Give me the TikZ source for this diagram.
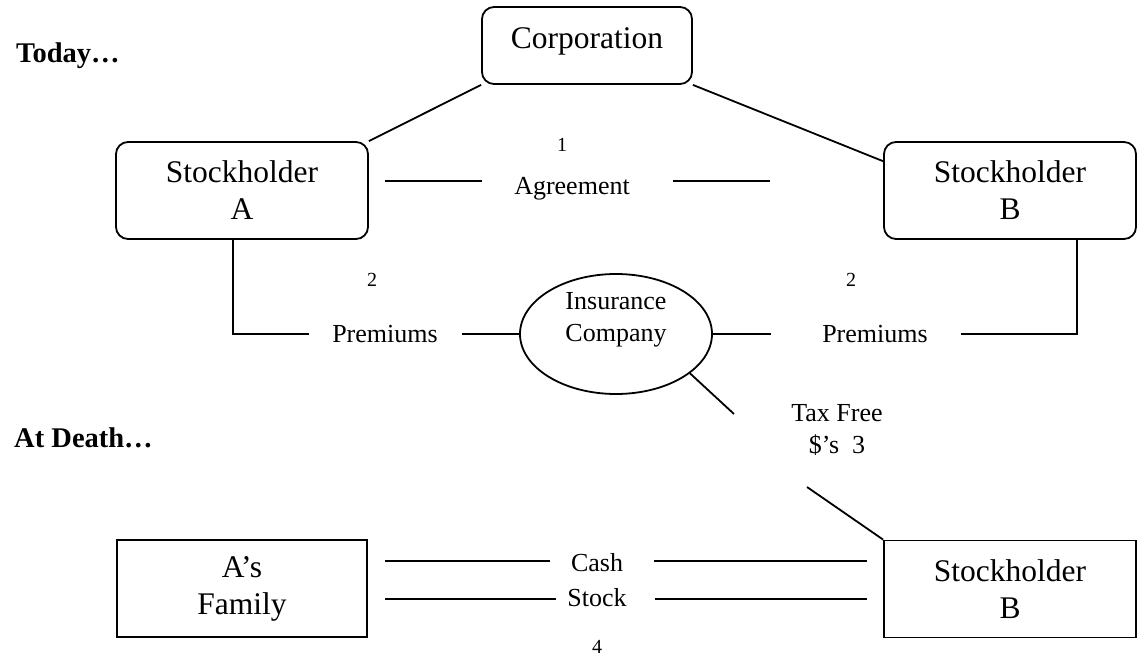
\documentclass[tikz,border=0pt]{standalone}
\usepackage{fontspec}
\setmainfont{Liberation Serif}
\usetikzlibrary{positioning,shapes.geometric}

\begin{document}
\begin{tikzpicture}[x=1pt,y=-1pt,line width=1.8pt,
	big/.style={font=\fontsize{31.5}{37}\selectfont,align=center},
	mid/.style={font=\fontsize{26}{32}\selectfont,align=center},
	num/.style={font=\fontsize{20}{24}\selectfont},
	head/.style={font=\fontsize{28.5}{34}\selectfont\bfseries,anchor=base west},
	rbox/.style={big,draw,rounded corners=12pt,minimum width=252pt,minimum height=97pt,inner sep=0pt},
	sbox/.style={big,draw,minimum width=250pt,minimum height=97pt,inner sep=0pt}]

		\useasboundingbox (0,0) rectangle (1145,658);

		\coordinate (agrA1) at (385,181);
		\coordinate (agrA2) at (482,181);
		\coordinate (agrB1) at (673,181);
		\coordinate (agrB2) at (770,181);
		\coordinate (pa) at (233,334);
		\coordinate (pb) at (309,334);
		\coordinate (pc) at (462,334);
		\coordinate (pd) at (771,334);
		\coordinate (pe) at (961,334);
		\coordinate (pf) at (1077,334);
		\coordinate (tx1) at (734,414);
		\coordinate (tx2) at (807,487);
		\coordinate (ca1) at (385,561);
		\coordinate (ca2) at (550,561);
		\coordinate (ca3) at (654,561);
		\coordinate (ca4) at (867,561);
		\coordinate (st1) at (385,599);
		\coordinate (st2) at (556,599);
		\coordinate (st3) at (655,599);
		\coordinate (st4) at (867,599);

		\node[head] (today) at (12,63) {Today…};
		\node[head] (death) at (10,447) {At Death…};

		\node[rbox,minimum width=210pt,minimum height=77pt,text height=21pt,text depth=14pt] (corp) at (587,45.5) {Corporation};
		\node[rbox] (sha) at (242,190.5) {Stockholder\\A};
		\node[rbox] (shb) at (1010,190.5) {Stockholder\\B};

		\node[num] (one) at (562,145) {1};
		\node[mid] (agr) at (572,189) {Agreement};
		\node[num] (twoA) at (372,280) {2};
		\node[num] (twoB) at (851,280) {2};
		\node[mid] (premA) at (385,334) {Premiums};
		\node[mid] (premB) at (875,334) {Premiums};

		\node[ellipse,draw,minimum width=192pt,minimum height=120pt,inner sep=0pt] (ins) at (616,334) {};
		\node[mid] (instxt) at (616,320) {Insurance\\Company};
		\node[mid] (tax) at (837,430) {Tax Free\\\$’s~~3};

		\node[sbox] (fam) at (242,588.5) {A’s\\Family};
		\node[sbox,minimum width=252pt] (shc) at (1010,589) {Stockholder\\B};
		\node[mid] (cash) at (597,563) {Cash};
		\node[mid] (stock) at (597,598) {Stock};
		\node[num] (four) at (597,647) {4};

		\draw (corp.south west) -- (sha.north east);
		\draw (corp.south east) -- (shb.167);
		\draw (agrA1) -- (agrA2);
		\draw (agrB1) -- (agrB2);
		\draw (pa |- sha.south) -- (pa) -- (pb);
		\draw (pc) -- (ins.west);
		\draw (ins.east) -- (pd);
		\draw (pe) -- (pf) -- (pf |- shb.south);
		\draw (ins.-28) -- (tx1);
		\draw (tx2) -- (shc.north west);
		\draw (ca1) -- (ca2);
		\draw (ca3) -- (ca4);
		\draw (st1) -- (st2);
		\draw (st3) -- (st4);

\end{tikzpicture}
\end{document}
